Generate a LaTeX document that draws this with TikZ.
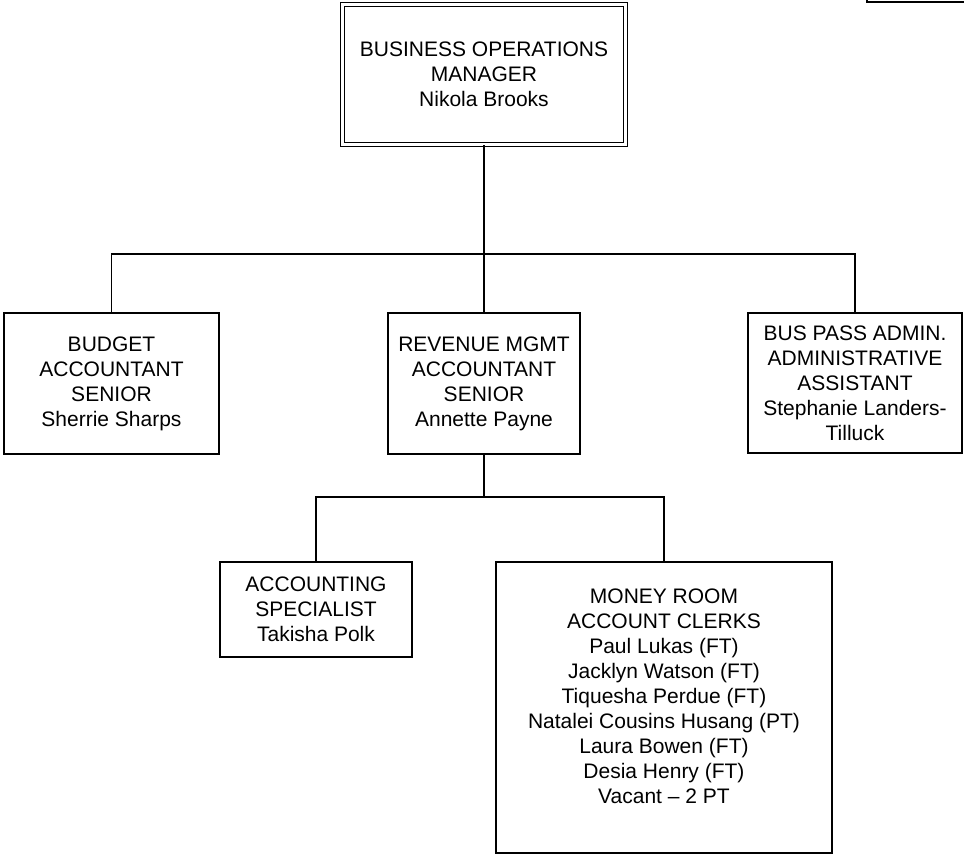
\documentclass[tikz,border=0pt]{standalone}
\usepackage{fontspec}
\setmainfont{Liberation Sans}
\newcommand{\boxfont}{\fontsize{21}{25}\selectfont}
\tikzset{
  orgbox/.style={draw=black, line width=1.7pt, fill=white, align=center, inner sep=0pt, font=\boxfont},
  boxtext/.style={align=center, inner sep=0pt, font=\boxfont},
  conn/.style={draw=black, line width=1.7pt}
}
\begin{document}
\begin{tikzpicture}[x=1pt,y=-1pt]
\useasboundingbox[fill=white] (0,0) rectangle (964,856);

% fragment of a box at the top right
\coordinate (fragA) at (867,0);
\coordinate (fragB) at (964,1.8);
\draw[conn] (fragA) |- (fragB);

% nodes
\node[orgbox, double, double distance=2.5pt, line width=1.6pt, minimum width=283pt, minimum height=140pt] (top) at (484,74.5)
  {BUSINESS OPERATIONS\\MANAGER\\Nikola Brooks};

\node[orgbox, minimum width=215pt, minimum height=141pt] (budget) at (111.5,383.5)
  {BUDGET\\ACCOUNTANT\\SENIOR\\Sherrie Sharps};
\node[orgbox, minimum width=192pt, minimum height=141pt] (rev) at (484,383.5)
  {REVENUE MGMT\\ACCOUNTANT\\SENIOR\\Annette Payne};
\node[orgbox, minimum width=214pt, minimum height=140pt] (buspass) at (855,383)
  {BUS PASS ADMIN.\\ADMINISTRATIVE\\ASSISTANT\\Stephanie Landers-\\Tilluck};

\node[orgbox, minimum width=192pt, minimum height=95pt] (acct) at (316,609.5)
  {ACCOUNTING\\SPECIALIST\\Takisha Polk};
\node[orgbox, minimum width=336pt, minimum height=291pt] (money) at (664,707.5) {};
\node[boxtext] (moneytext) at ([yshift=11pt]money.center)
  {MONEY ROOM\\ACCOUNT CLERKS\\Paul Lukas (FT)\\Jacklyn Watson (FT)\\Tiquesha Perdue (FT)\\Natalei Cousins Husang (PT)\\Laura Bowen (FT)\\Desia Henry (FT)\\Vacant – 2 PT};

% connectors
\coordinate (busA) at (484,254);
\coordinate (busB) at (484,497);
\draw[conn] (top.south) -- (rev.north);
\draw[conn] (budget.north) |- (busA) -| (buspass.north);
\draw[conn] (rev.south) -- (busB);
\draw[conn] (acct.north) |- (busB) -| (money.north);
\end{tikzpicture}
\end{document}
